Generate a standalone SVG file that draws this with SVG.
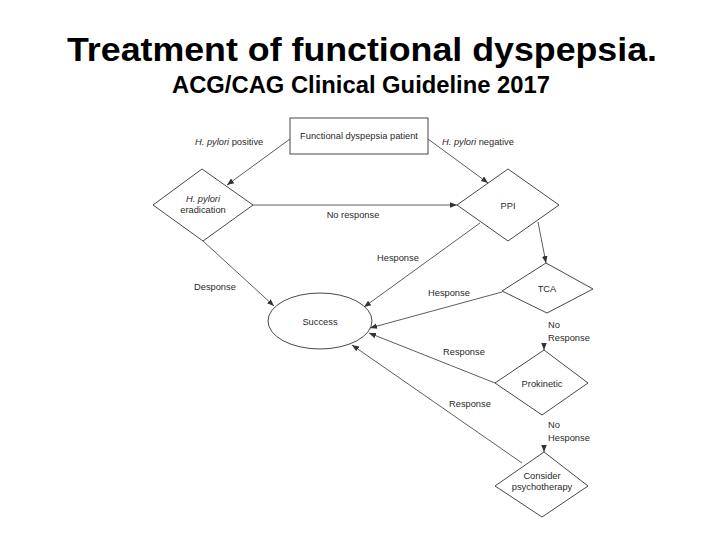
<svg xmlns="http://www.w3.org/2000/svg" width="720" height="540" viewBox="0 0 720 540">
<style>
.title{font-family:"Liberation Sans",Arial,sans-serif;font-weight:bold;fill:#000}
.t{font-family:"Liberation Sans",Arial,sans-serif;font-size:9.3px;fill:#2a2a2a}
.c{text-anchor:middle}
.i{font-style:italic}
.shape{fill:#fff;stroke:#333;stroke-width:0.9}
.conn{fill:none;stroke:#333;stroke-width:0.8;marker-end:url(#ah)}
</style>
<defs>
<marker id="ah" viewBox="0 0 10 10" refX="10" refY="5" markerWidth="7" markerHeight="7" markerUnits="userSpaceOnUse" orient="auto">
<path d="M0,1 L10,5 L0,9 z" fill="#333"/>
</marker>
</defs>
<rect width="720" height="540" fill="#fff"/>
<text class="title" x="362" y="61" font-size="34" text-anchor="middle" textLength="590" lengthAdjust="spacingAndGlyphs">Treatment of functional dyspepsia.</text>
<text class="title" x="361" y="93" font-size="23" text-anchor="middle" textLength="378" lengthAdjust="spacingAndGlyphs">ACG/CAG Clinical Guideline 2017</text>

<g id="connectors">
<path class="conn" d="M290,139 L227,185"/>
<path class="conn" d="M428,139 L488,183"/>
<path class="conn" d="M253,205 L457,205"/>
<path class="conn" d="M203,241 L274,306"/>
<path class="conn" d="M480,223 L364,307"/>
<path class="conn" d="M502,292 L370,328"/>
<path class="conn" d="M495,383 L369,333"/>
<path class="conn" d="M522,463 L352,345"/>
<path class="conn" d="M538,222 L546,263"/>
<path class="conn" d="M544,345 L544,350"/>
<path class="conn" d="M544,447 L544,452"/>
<text class="t" x="195" y="145"><tspan class="i">H. pylori</tspan> positive</text>
<text class="t" x="442" y="145"><tspan class="i">H. pylori</tspan> negative</text>
<text class="t c" x="353" y="218">No response</text>
<text class="t" x="377" y="261">Hesponse</text>
<text class="t" x="194" y="290">Desponse</text>
<text class="t" x="428" y="296">Hesponse</text>
<text class="t" x="548" y="328">No</text>
<text class="t" x="548" y="341">Response</text>
<text class="t" x="443" y="355">Response</text>
<text class="t" x="449" y="407">Response</text>
<text class="t" x="548" y="428">No</text>
<text class="t" x="548" y="441">Hesponse</text>
</g>

<g id="patient">
<rect class="shape" x="290" y="118" width="138" height="36"/>
<text class="t c" x="359" y="139">Functional dyspepsia patient</text>
</g>
<g id="eradication">
<polygon class="shape" points="153,205 202,169 253,205 203,241"/>
<text class="t c i" x="203" y="202">H. pylori</text>
<text class="t c" x="203" y="213">eradication</text>
</g>
<g id="ppi">
<polygon class="shape" points="457,205 508,169 559,205 508,241"/>
<text class="t c" x="508" y="209">PPI</text>
</g>
<g id="success">
<ellipse class="shape" cx="320" cy="321" rx="52" ry="28"/>
<text class="t c" x="320" y="325">Success</text>
</g>
<g id="tca">
<polygon class="shape" points="502,291 546,263 593,289 547,313"/>
<text class="t c" x="547" y="292">TCA</text>
</g>
<g id="prokinetic">
<polygon class="shape" points="495,383 544,350 588,383 542,415"/>
<text class="t c" x="542" y="387">Prokinetic</text>
</g>
<g id="psychotherapy">
<polygon class="shape" points="495,486 544,452 588,486 542,517"/>
<text class="t c" x="542" y="479">Consider</text>
<text class="t c" x="542" y="490">psychotherapy</text>
</g>
</svg>
